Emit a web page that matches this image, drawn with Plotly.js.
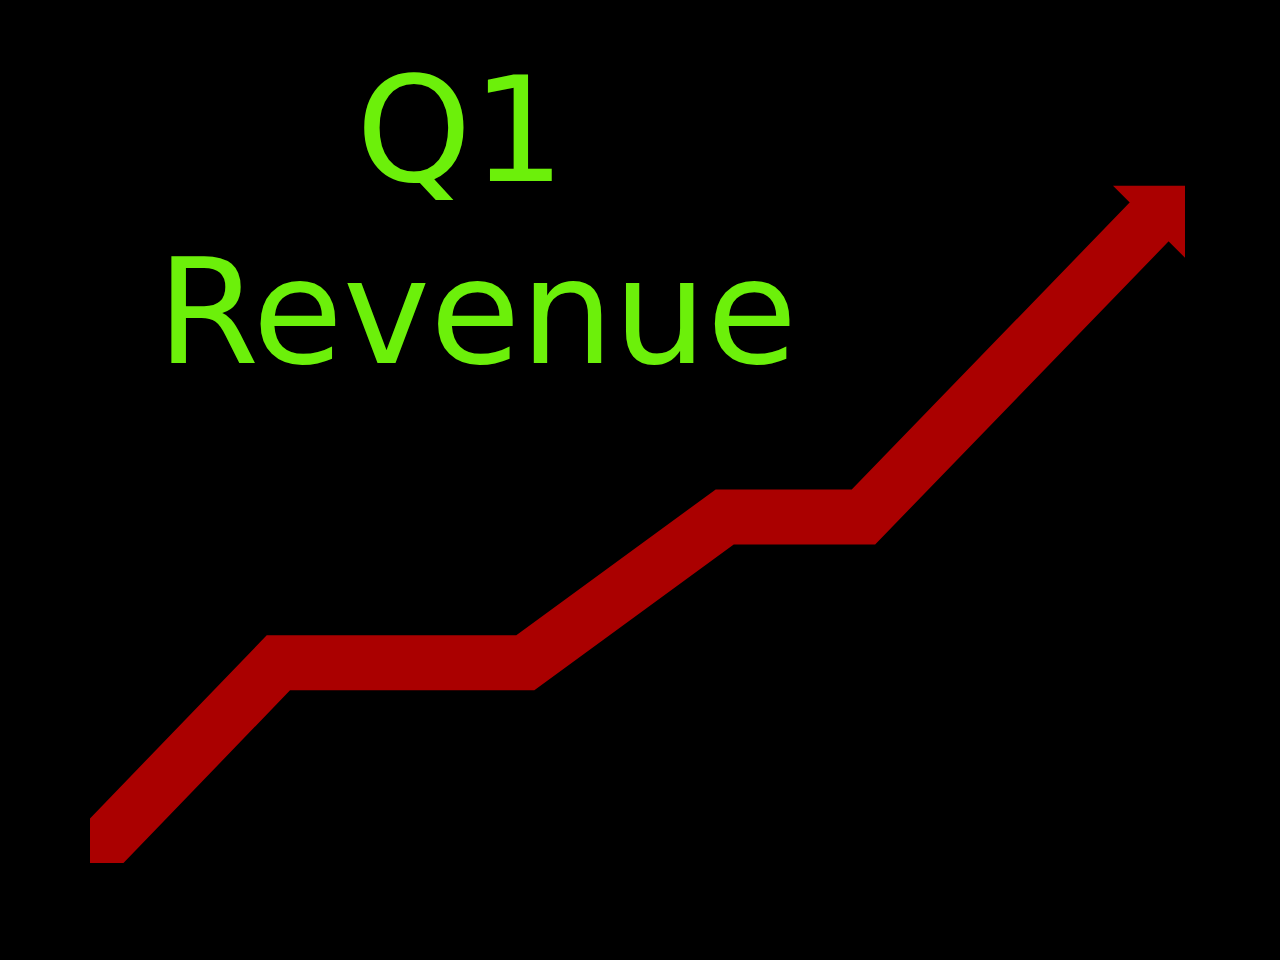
<!DOCTYPE html>
<html>
<head>
<meta charset="utf-8">
<script src="https://cdn.plot.ly/plotly-3.0.1.min.js"></script>
<style>
  html, body { margin: 0; padding: 0; background: #000; }
  #chart { width: 1280px; height: 960px; }
</style>
</head>
<body>
<div id="chart"></div>
<script>
// trend line (first point starts below/left of the visible area)
const weeks = [-0.3, 1.9, 4.39, 6.4, 7.8, 10.8];
const revenue = [-3, 23.2, 23.2, 40.1, 40.1, 75.7];

const titleLines = ['Q1', 'Revenue'];

const red = '#aa0000';
const green = '#6cf00a';

// last point gets the arrow head
const markerSizes = weeks.map((w, i) => i === weeks.length - 1 ? 80 : 0);

const traces = [{
    x: weeks, y: revenue, type: 'scatter', mode: 'lines+markers',
    line: { color: red, width: 55 },
    marker: { symbol: 'triangle-ne', size: markerSizes, color: red, opacity: 1, line: { width: 0 } },
    hoverinfo: 'skip'
}];

const textFont = { family: 'DejaVu Sans', size: 147, color: green };

const layout = {
    width: 1280, height: 960,
    paper_bgcolor: '#000000', plot_bgcolor: '#000000',
    margin: { l: 90, r: 0, t: 0, b: 97 },
    showlegend: false,
    xaxis: { range: [0, 12], visible: false, showgrid: false, zeroline: false },
    yaxis: { range: [0, 100], visible: false, showgrid: false, zeroline: false },
    annotations: [
        { text: titleLines[0], xref: 'paper', yref: 'paper', x: 0.311, y: 0.849,
          xanchor: 'center', yanchor: 'middle', showarrow: false, font: textFont },
        { text: titleLines[1], xref: 'paper', yref: 'paper', x: 0.325, y: 0.638,
          xanchor: 'center', yanchor: 'middle', showarrow: false, font: textFont }
    ]
};

Plotly.newPlot('chart', traces, layout, { displayModeBar: false, staticPlot: true });
</script>
</body>
</html>
